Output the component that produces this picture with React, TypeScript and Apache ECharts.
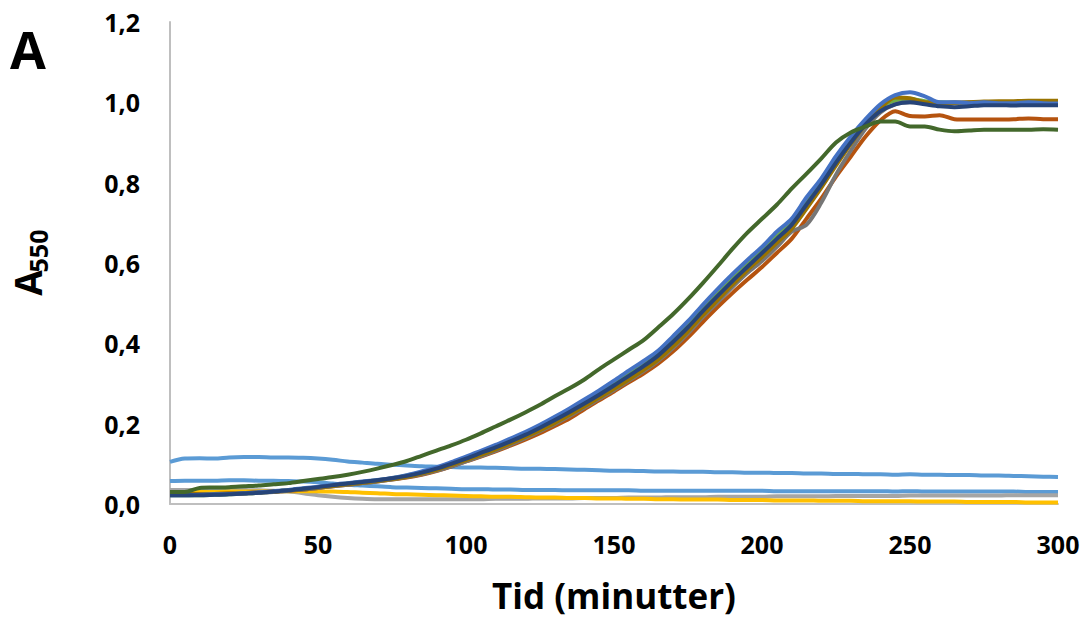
import React, { useEffect, useRef } from "react";
import * as echarts from "echarts";

const time: number[] = Array.from({ length: 61 }, (_, i) => i * 5);

const blue = [0.022,0.022,0.023,0.024,0.025,0.027,0.029,0.032,0.035,0.039,0.043,0.048,0.052,0.056,0.060,0.065,0.072,0.081,0.091,0.104,0.118,0.132,0.147,0.163,0.179,0.197,0.217,0.238,0.260,0.283,0.307,0.332,0.356,0.382,0.418,0.455,0.496,0.535,0.572,0.607,0.640,0.678,0.710,0.763,0.810,0.866,0.915,0.958,0.995,1.018,1.025,1.015,1.000,1.000,0.998,1.000,0.998,0.998,1.000,0.998,0.997];
const darkBlue = [0.022,0.022,0.022,0.023,0.024,0.026,0.028,0.031,0.034,0.038,0.042,0.047,0.051,0.055,0.059,0.064,0.070,0.078,0.088,0.100,0.113,0.127,0.141,0.156,0.172,0.190,0.209,0.229,0.250,0.272,0.295,0.319,0.343,0.370,0.404,0.440,0.480,0.518,0.555,0.590,0.625,0.660,0.695,0.745,0.795,0.850,0.900,0.945,0.978,0.995,1.000,0.995,0.990,0.988,0.990,0.993,0.993,0.992,0.993,0.993,0.993];
const gold = [0.024,0.024,0.024,0.025,0.026,0.027,0.029,0.031,0.034,0.037,0.041,0.045,0.049,0.053,0.057,0.062,0.068,0.076,0.085,0.097,0.109,0.122,0.136,0.151,0.167,0.184,0.202,0.222,0.243,0.265,0.287,0.310,0.334,0.360,0.393,0.430,0.470,0.508,0.546,0.582,0.615,0.650,0.685,0.735,0.787,0.843,0.897,0.945,0.985,1.012,1.010,1.000,0.998,0.998,1.000,1.002,1.003,1.003,1.004,1.004,1.004];
const darkGray = [0.023,0.023,0.023,0.024,0.025,0.026,0.028,0.030,0.033,0.036,0.040,0.044,0.048,0.052,0.056,0.061,0.067,0.074,0.083,0.094,0.106,0.119,0.133,0.148,0.164,0.181,0.199,0.219,0.240,0.262,0.284,0.307,0.331,0.357,0.389,0.425,0.465,0.502,0.540,0.575,0.605,0.640,0.678,0.695,0.750,0.820,0.880,0.935,0.975,0.995,1.000,0.998,0.997,1.000,1.000,1.000,1.001,1.001,1.000,1.000,1.000];
const orange = [0.024,0.024,0.024,0.025,0.026,0.027,0.029,0.031,0.033,0.036,0.040,0.044,0.048,0.052,0.056,0.061,0.066,0.073,0.082,0.093,0.106,0.118,0.131,0.145,0.160,0.176,0.194,0.213,0.236,0.258,0.280,0.303,0.325,0.350,0.380,0.415,0.453,0.490,0.525,0.558,0.590,0.625,0.660,0.710,0.760,0.815,0.865,0.915,0.955,0.978,0.966,0.965,0.968,0.958,0.957,0.957,0.957,0.958,0.960,0.958,0.958];
const green = [0.030,0.030,0.040,0.041,0.042,0.044,0.046,0.049,0.052,0.057,0.062,0.067,0.073,0.080,0.088,0.097,0.107,0.120,0.133,0.146,0.160,0.176,0.193,0.210,0.228,0.247,0.268,0.288,0.310,0.336,0.360,0.384,0.408,0.440,0.473,0.510,0.550,0.592,0.635,0.675,0.710,0.745,0.785,0.822,0.860,0.900,0.925,0.940,0.952,0.952,0.940,0.940,0.932,0.928,0.930,0.932,0.932,0.932,0.932,0.933,0.932];
const lightGreen = [0.022,0.022,0.022,0.023,0.024,0.026,0.028,0.031,0.034,0.038,0.042,0.047,0.051,0.055,0.059,0.064,0.071,0.079,0.089,0.102,0.115,0.129,0.144,0.160,0.176,0.194,0.213,0.234,0.255,0.278,0.301,0.326,0.350,0.376,0.411,0.448,0.488,0.527,0.564,0.599,0.632,0.669,0.702,0.754,0.802,0.857,0.907,0.952,0.988,1.005,1.008,1.003,1.000,0.999,0.999,1.000,0.999,0.999,1.000,0.999,0.998];
const lightBlueHigh = [0.105,0.113,0.114,0.113,0.116,0.117,0.117,0.116,0.116,0.115,0.113,0.110,0.106,0.103,0.100,0.098,0.096,0.094,0.093,0.092,0.091,0.091,0.090,0.089,0.088,0.088,0.087,0.086,0.085,0.084,0.083,0.083,0.082,0.081,0.081,0.080,0.080,0.079,0.079,0.078,0.078,0.077,0.077,0.076,0.076,0.075,0.075,0.074,0.074,0.073,0.074,0.073,0.073,0.072,0.072,0.071,0.071,0.070,0.069,0.068,0.067];
const lightBlueLow = [0.057,0.058,0.058,0.058,0.059,0.059,0.058,0.058,0.057,0.056,0.054,0.051,0.048,0.046,0.044,0.042,0.041,0.040,0.039,0.038,0.037,0.037,0.036,0.036,0.035,0.035,0.035,0.034,0.034,0.034,0.034,0.034,0.033,0.033,0.033,0.033,0.033,0.033,0.033,0.033,0.033,0.032,0.032,0.032,0.032,0.032,0.032,0.032,0.032,0.031,0.032,0.031,0.031,0.031,0.031,0.031,0.031,0.031,0.030,0.030,0.030];
const lightGray = [0.035,0.035,0.035,0.035,0.035,0.035,0.034,0.033,0.031,0.027,0.022,0.018,0.015,0.013,0.012,0.012,0.012,0.012,0.012,0.012,0.012,0.012,0.013,0.013,0.013,0.014,0.014,0.014,0.015,0.015,0.015,0.016,0.016,0.016,0.017,0.017,0.017,0.018,0.018,0.018,0.018,0.019,0.019,0.019,0.019,0.020,0.020,0.020,0.020,0.020,0.021,0.021,0.021,0.021,0.021,0.021,0.021,0.022,0.022,0.022,0.022];
const yellow = [0.028,0.029,0.030,0.030,0.031,0.031,0.031,0.032,0.032,0.032,0.032,0.031,0.030,0.028,0.027,0.025,0.024,0.023,0.022,0.021,0.020,0.019,0.018,0.018,0.017,0.016,0.016,0.015,0.015,0.014,0.014,0.013,0.013,0.012,0.012,0.011,0.011,0.011,0.010,0.010,0.010,0.009,0.009,0.009,0.008,0.008,0.008,0.007,0.007,0.007,0.007,0.006,0.006,0.006,0.005,0.005,0.005,0.005,0.004,0.004,0.004];

const seriesList: { name: string; color: string; values: number[] }[] = [
  { name: "S1", color: "#5B9BD5", values: lightBlueHigh },
  { name: "S2", color: "#5B9BD5", values: lightBlueLow },
  { name: "S3", color: "#A5A5A5", values: lightGray },
  { name: "S4", color: "#FFC000", values: yellow },
  { name: "S5", color: "#70AD47", values: lightGreen },
  { name: "S6", color: "#B5530F", values: orange },
  { name: "S7", color: "#767676", values: darkGray },
  { name: "S8", color: "#997300", values: gold },
  { name: "S9", color: "#4472C4", values: blue },
  { name: "S10", color: "#264478", values: darkBlue },
  { name: "S11", color: "#43682B", values: green },
];

const FONT = "Open Sans";

export default function App() {
  const ref = useRef<HTMLDivElement>(null);
  useEffect(() => {
    if (!ref.current) return;
    const chart = echarts.init(ref.current, undefined, { renderer: "svg" });
    chart.setOption({
      animation: false,
      backgroundColor: "#ffffff",
      grid: { left: 170, right: 25, top: 22, bottom: 115, containLabel: false },
      xAxis: {
        type: "value",
        min: 0,
        max: 300,
        interval: 50,
        name: "Tid (minutter)",
        nameLocation: "middle",
        nameGap: 74,
        nameTextStyle: { fontFamily: FONT, fontWeight: "bold", fontSize: 35, color: "#000" },
        axisLine: { show: true, lineStyle: { color: "#BFBFBF", width: 2 } },
        axisTick: { show: false },
        splitLine: { show: false },
        axisLabel: { fontFamily: FONT, fontWeight: "bold", fontSize: 25, color: "#000", margin: 27 },
      },
      yAxis: {
        type: "value",
        min: 0,
        max: 1.2,
        interval: 0.2,
        axisLine: { show: true, lineStyle: { color: "#BFBFBF", width: 2 } },
        axisTick: { show: false },
        splitLine: { show: false },
        axisLabel: {
          fontFamily: FONT,
          fontWeight: "bold",
          fontSize: 25,
          color: "#000",
          margin: 30,
          formatter: (v: number) => v.toFixed(1).replace(".", ","),
        },
      },
      graphic: [
        {
          type: "text",
          x: 28,
          y: 48,
          style: { text: "A", fontFamily: FONT, fontWeight: "bold", fontSize: 52, fill: "#000", align: "center", verticalAlign: "middle" },
        },
        {
          type: "text",
          x: 27,
          y: 283,
          rotation: Math.PI / 2,
          style: { text: "A", fontFamily: FONT, fontWeight: "bold", fontSize: 37, fill: "#000", align: "center", verticalAlign: "middle" },
        },
        {
          type: "text",
          x: 38,
          y: 251,
          rotation: Math.PI / 2,
          style: { text: "550", fontFamily: FONT, fontWeight: "bold", fontSize: 25, fill: "#000", align: "center", verticalAlign: "middle" },
        },
      ],
      series: seriesList.map((s) => ({
        name: s.name,
        type: "line",
        data: time.map((t, i) => [t, s.values[i]]),
        smooth: 0.3,
        showSymbol: false,
        symbol: "none",
        lineStyle: { color: s.color, width: 4 },
        itemStyle: { color: s.color },
      })),
    });
    return () => chart.dispose();
  }, []);
  return <div ref={ref} style={{ position: "fixed", left: 0, top: 0, width: 1083, height: 619 }} />;
}
